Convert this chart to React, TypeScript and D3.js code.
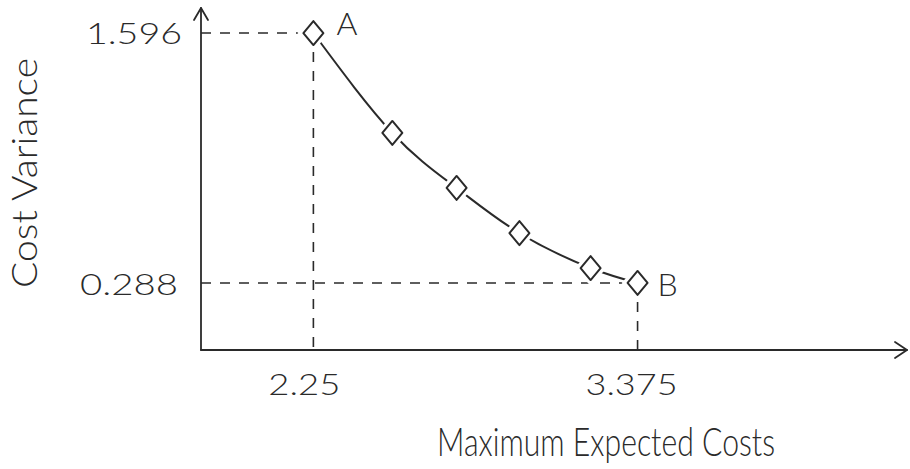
import React from "react";
import * as d3 from "d3";

const xValues = [2.25, 2.524, 2.747, 2.965, 3.212, 3.375];
const yValues = [1.596, 1.073, 0.785, 0.549, 0.366, 0.288];
const xTickLabels = ["2.25", "3.375"];
const yTickLabels = ["1.596", "0.288"];
const pointLabels = ["A", "B"];
const xTitle = "Maximum Expected Costs";
const yTitle = "Cost Variance";

const W = 910;
const H = 469;
const X0 = 201, X1 = 907, Y0 = 350, Y1 = 8;

export default function App() {
  const x = d3.scaleLinear().domain([1.86, 4.31]).range([X0, X1]);
  const y = d3.scaleLinear().domain([-0.063, 1.727]).range([Y0, Y1]);
  const pts: [number, number][] = xValues.map((v, i) => [x(v), y(yValues[i])]);
  const line = d3.line().curve(d3.curveNatural)(pts) || "";
  const ink = "#2a2a2a";
  const font = "Lato, 'DejaVu Sans', sans-serif";
  const dia = (cx: number, cy: number, w: number, h: number) =>
    `M${cx},${cy - h}L${cx + w},${cy}L${cx},${cy + h}L${cx - w},${cy}Z`;
  const first = pts[0];
  const last = pts[pts.length - 1];
  const dash = "10 9";
  return (
    <svg width={W} height={H} style={{ position: "absolute", left: 0, top: 0, background: "#fff" }}>
      {/* guide dashed lines */}
      <g stroke={ink} strokeWidth={1.6} strokeDasharray={dash} fill="none">
        <line x1={X0} y1={first[1]} x2={first[0]} y2={first[1]} />
        <line x1={first[0]} y1={first[1]} x2={first[0]} y2={Y0} />
        <line x1={X0} y1={last[1]} x2={last[0]} y2={last[1]} />
        <line x1={last[0]} y1={last[1]} x2={last[0]} y2={Y0} />
      </g>
      {/* axes */}
      <g stroke={ink} strokeWidth={1.8} fill="none" strokeLinecap="round" strokeLinejoin="round">
        <path d={`M${X0},${Y0}L${X1},${Y0}`} />
        <path d={`M${X1 - 12},${Y0 - 8}L${X1},${Y0}L${X1 - 12},${Y0 + 8}`} />
        <path d={`M${X0},${Y0}L${X0},${Y1}`} />
        <path d={`M${X0 - 7},${Y1 + 12}L${X0},${Y1}L${X0 + 7},${Y1 + 12}`} />
      </g>
      {/* curve */}
      <path d={line} stroke={ink} strokeWidth={2} fill="none" />
      {/* markers */}
      {pts.map(([cx, cy], i) => (
        <g key={i}>
          <path d={dia(cx, cy, 16, 18)} fill="#fff" stroke="none" />
          <path d={dia(cx, cy, 10, 12)} fill="#fff" stroke={ink} strokeWidth={2} strokeLinejoin="round" />
        </g>
      ))}
      {/* tick labels */}
      <g fill={ink} fontFamily={font} fontWeight={300}>
        <text x={182} y={y(yValues[0]) + 11} fontSize={30} textAnchor="end" textLength={96} lengthAdjust="spacingAndGlyphs">{yTickLabels[0]}</text>
        <text x={178} y={y(yValues[yValues.length - 1]) + 12} fontSize={30} textAnchor="end" textLength={98} lengthAdjust="spacingAndGlyphs">{yTickLabels[1]}</text>
        <text x={x(xValues[0]) - 9} y={395} fontSize={30} textAnchor="middle" textLength={72} lengthAdjust="spacingAndGlyphs">{xTickLabels[0]}</text>
        <text x={x(xValues[xValues.length - 1]) - 6} y={395} fontSize={30} textAnchor="middle" textLength={92} lengthAdjust="spacingAndGlyphs">{xTickLabels[1]}</text>
        <text x={first[0] + 23} y={first[1] + 2} fontSize={32}>{pointLabels[0]}</text>
        <text x={last[0] + 20} y={last[1] + 13} fontSize={32}>{pointLabels[1]}</text>
        <text x={606} y={456} fontSize={40} textAnchor="middle" textLength={338} lengthAdjust="spacingAndGlyphs">{xTitle}</text>
        <text transform={`translate(37,173) rotate(-90)`} fontSize={35} textAnchor="middle" textLength={230} lengthAdjust="spacingAndGlyphs">{yTitle}</text>
      </g>
    </svg>
  );
}
